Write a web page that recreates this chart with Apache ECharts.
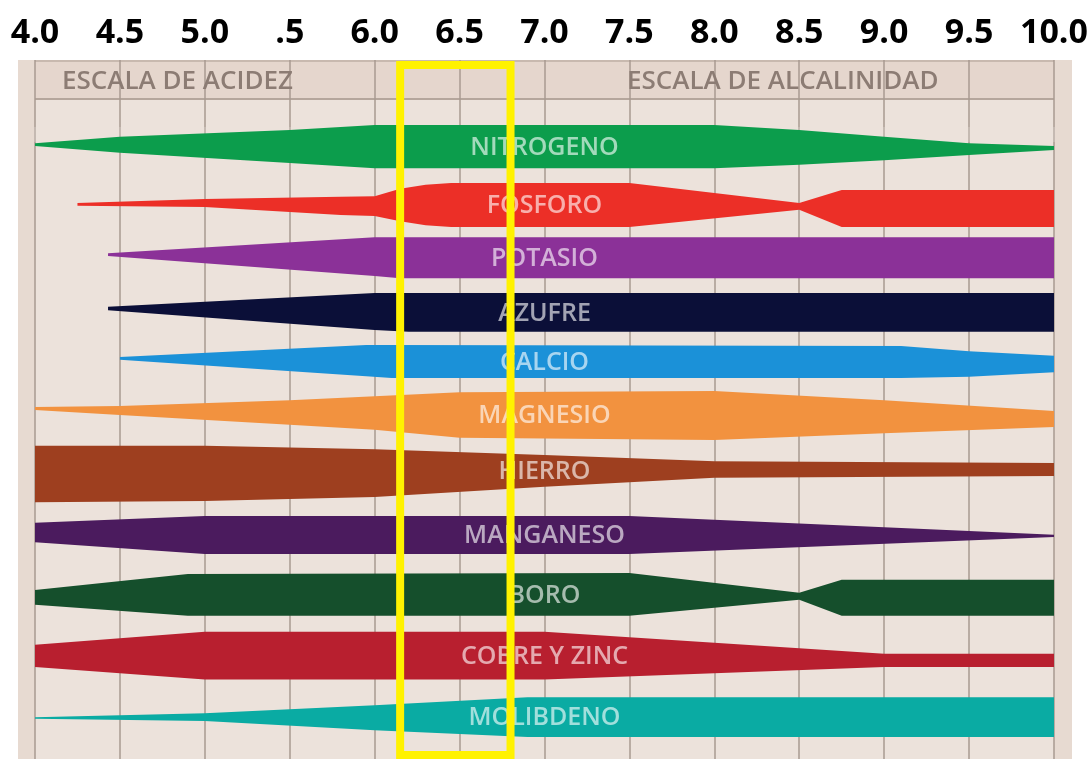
<!DOCTYPE html>
<html>
<head>
<meta charset="utf-8">
<script src="https://cdn.jsdelivr.net/npm/echarts@6/dist/echarts.min.js"></script>
<style>
html,body{margin:0;padding:0;background:#ffffff;}
#chart{width:1091px;height:759px;}
</style>
</head>
<body>
<div id="chart"></div>
<script>
// ---------- DATA ----------
const phTickLabels = ['4.0','4.5','5.0','.5','6.0','6.5','7.0','7.5','8.0','8.5','9.0','9.5','10.0'];
const scaleHeaders = ['ESCALA DE ACIDEZ', 'ESCALA DE ALCALINIDAD'];
const nutrients = ['NITROGENO','FOSFORO','POTASIO','AZUFRE','CALCIO','MAGNESIO','HIERRO','MANGANESO','BORO','COBRE Y ZINC','MOLIBDENO'];
// each profile point: [pH, upper edge, lower edge] in hundredths of a row, relative to the row
const nitrogeno = [[4.0,2,7],[4.5,-9,19],[5.5,-21,37],[6.0,-30,46],[8.0,-30,46],[8.5,-21,40],[9.0,-9,32],[9.5,2,23],[10.0,7,14]];
const fosforo   = [[4.25,7,12],[5.0,0,14],[5.8,-4,28],[6.0,-5,30],[6.15,-18,39],[6.3,-25,46],[6.45,-28,49],[7.5,-28,49],[8.5,7,19],[8.75,-16,49],[10.0,-16,49]];
const potasio   = [[4.43,-5,0],[6.0,-33,35],[6.15,-33,39],[10.0,-33,39]];
const azufre    = [[4.43,-11,-5],[6.0,-35,30],[6.2,-35,33],[10.0,-35,33]];
const calcio    = [[4.5,-23,-18],[5.95,-44,11],[6.1,-44,14],[9.1,-42,14],[9.5,-33,12],[10.0,-25,4]];
const magnesio  = [[4.0,-35,-30],[4.5,-37,-21],[5.5,-47,-4],[6.0,-54,5],[6.5,-61,19],[8.0,-63,23],[9.0,-47,11],[10.0,-28,0]];
const hierro    = [[4.0,-67,32],[5.0,-67,30],[6.0,-61,23],[7.0,-51,5],[8.0,-40,-11],[10.0,-37,-14]];
const manganeso = [[4.0,-32,2],[5.0,-44,23],[7.5,-44,23],[10.0,-11,-7]];
const boro      = [[4.0,-14,12],[4.9,-42,31],[7.5,-44,31],[8.5,-9,3],[8.75,-32,31],[10.0,-32,31]];
const cobreZinc = [[4.0,-18,21],[5.0,-41,43],[7.0,-41,43],[9.0,-2,21],[10.0,-2,21]];
const molibdeno = [[4.0,9,12],[5.0,2,16],[6.0,-12,32],[6.9,-26,44],[10.0,-26,44]];
const profiles = [nitrogeno,fosforo,potasio,azufre,calcio,magnesio,hierro,manganeso,boro,cobreZinc,molibdeno];
const optimalRange = [6.15, 6.8];
const labelPh = 7.0;

// ---------- STYLE ----------
const bandColors = ['#0c9d4c','#ec2f27','#8b3198','#0b0f38','#1b91d8','#f2923f','#9e3f1f','#4b1b5e','#154f2c','#b81f2f','#0aaba3'];
const gridColor = '#a99a90';

function midAt(prof, ph) {
  for (let k = 0; k < prof.length - 1; k++) {
    const a = prof[k], b = prof[k + 1];
    if (ph >= a[0] && ph <= b[0]) {
      const t = (ph - a[0]) / (b[0] - a[0]);
      const up = a[1] + (b[1] - a[1]) * t;
      const lo = a[2] + (b[2] - a[2]) * t;
      return (up + lo) / 2;
    }
  }
  const l = prof[prof.length - 1];
  return (l[1] + l[2]) / 2;
}

function bandSeries(i) {
  return {
    type: 'custom',
    name: nutrients[i],
    coordinateSystem: 'cartesian2d',
    data: [[labelPh, i]],
    encode: { x: 0, y: 1 },
    z: 3,
    silent: true,
    renderItem: function (params, api) {
      const prof = profiles[i];
      const upper = prof.map(p => api.coord([p[0], i + p[1] / 100]));
      const lower = prof.map(p => api.coord([p[0], i + p[2] / 100])).reverse();
      const lp = api.coord([labelPh, i + midAt(prof, labelPh) / 100]);
      return {
        type: 'group',
        children: [
          { type: 'polygon', shape: { points: upper.concat(lower) }, style: { fill: bandColors[i] } },
          { type: 'text', x: lp[0], y: lp[1] + 1,
            style: { text: nutrients[i], fill: 'rgba(255,255,255,0.62)', font: '600 25px "Open Sans"',
                     textAlign: 'center', textVerticalAlign: 'middle', verticalAlign: 'middle' } }
        ]
      };
    }
  };
}

const series = nutrients.map((n, i) => bandSeries(i));
series.push({
  type: 'custom',
  coordinateSystem: 'cartesian2d',
  data: [optimalRange],
  encode: { x: [0, 1] },
  z: 10,
  silent: true,
  renderItem: function (params, api) {
    const cs = params.coordSys;
    const x0 = api.coord([api.value(0), 0])[0];
    const x1 = api.coord([api.value(1), 0])[0];
    return { type: 'rect', shape: { x: x0, y: cs.y + 5, width: x1 - x0, height: cs.height - 9 },
             style: { fill: 'none', stroke: '#fff200', lineWidth: 8 } };
  }
});

const chart = echarts.init(document.getElementById('chart'), null, { renderer: 'canvas' });
chart.setOption({
  animation: false,
  backgroundColor: '#ffffff',
  grid: { left: 35, right: 37, top: 60, bottom: 0, containLabel: false },
  xAxis: {
    type: 'value', position: 'top', min: 4, max: 10, interval: 0.5,
    axisLine: { show: false },
    axisTick: { show: true, length: 15, lineStyle: { color: '#c9bfb8', width: 1.5 } },
    splitLine: { show: true, lineStyle: { color: gridColor, width: 1.5 } },
    axisLabel: {
      margin: 10, color: '#000000', fontFamily: 'Open Sans', fontWeight: 'bold', fontSize: 34,
      showMinLabel: true, showMaxLabel: true,
      formatter: function (v) { return phTickLabels[Math.round((v - 4) / 0.5)]; }
    }
  },
  yAxis: { type: 'value', inverse: true, min: -1.4386, max: 10.8246, show: false, splitLine: { show: false } },
  graphic: [
    { type: 'rect', z: -10, shape: { x: 18, y: 60, width: 1054, height: 699 }, style: { fill: '#e7dad1' } },
    { type: 'rect', z: -9, shape: { x: 35, y: 60, width: 1019, height: 699 }, style: { fill: '#ece2db' } },
    { type: 'rect', z: -8, shape: { x: 35, y: 60, width: 1019, height: 39 }, style: { fill: '#e5d6cd' } },
    { type: 'line', z: -7, shape: { x1: 35, y1: 61, x2: 1054, y2: 61 }, style: { stroke: '#c8b9af', lineWidth: 2 } },
    { type: 'line', z: -7, shape: { x1: 35, y1: 99, x2: 1054, y2: 99 }, style: { stroke: '#b5a69c', lineWidth: 2 } },
    { type: 'text', z: 1, x: 62, y: 82, style: { text: scaleHeaders[0], fill: '#8c7c74', font: '600 26px "Open Sans"', textVerticalAlign: 'middle', verticalAlign: 'middle' } },
    { type: 'text', z: 1, x: 627, y: 82, style: { text: scaleHeaders[1], fill: '#8c7c74', font: '600 26px "Open Sans"', textVerticalAlign: 'middle', verticalAlign: 'middle' } }
  ],
  series: series
});
</script>
</body>
</html>
